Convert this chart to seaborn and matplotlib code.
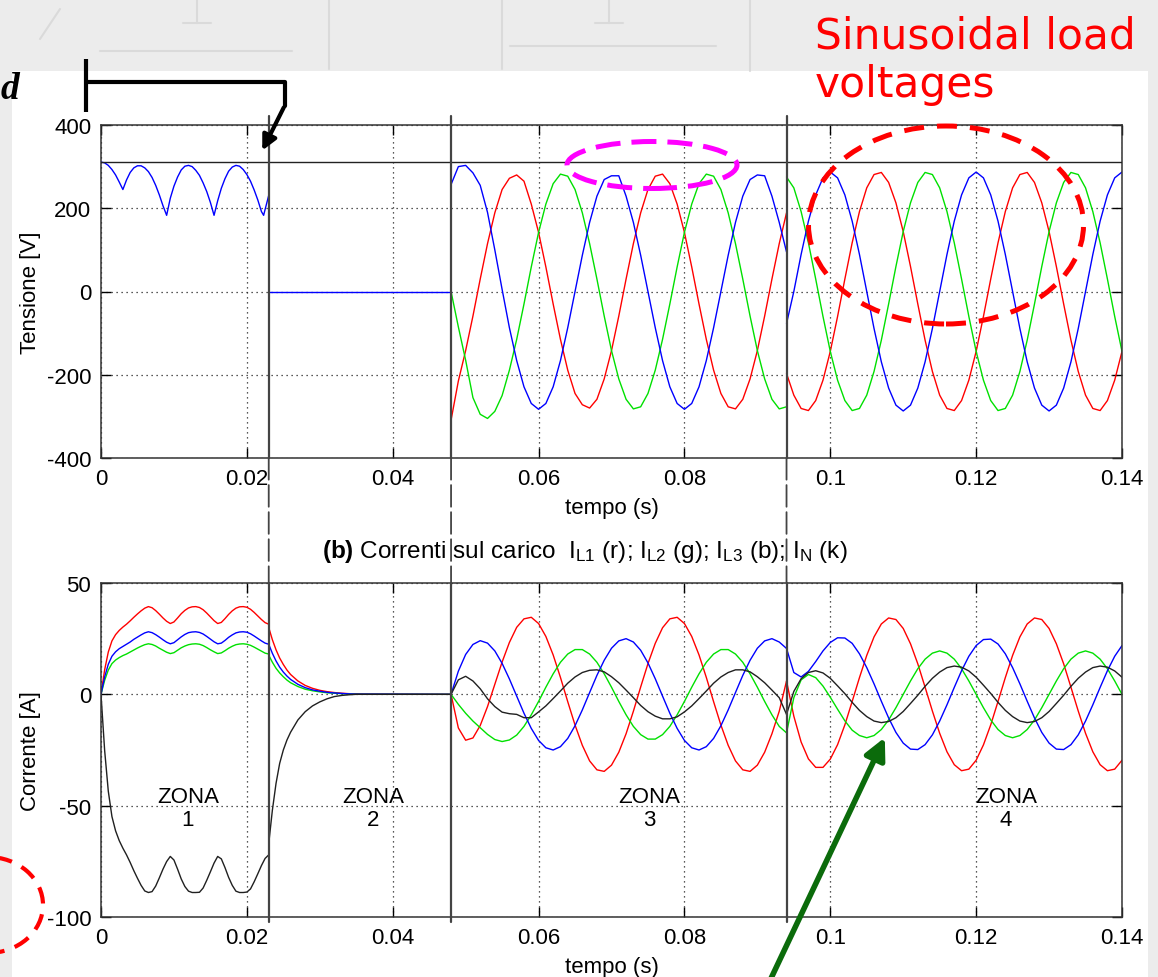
import numpy as np
import seaborn as sns
import matplotlib.pyplot as plt
from matplotlib.patches import Ellipse, Rectangle, FancyArrowPatch, ConnectionPatch
from matplotlib.lines import Line2D

sns.set_theme(style="ticks")
plt.rcParams['font.family'] = ['Liberation Sans', 'DejaVu Sans']
plt.rcParams['mathtext.fontset'] = 'custom'
plt.rcParams['mathtext.rm'] = 'Liberation Sans'
plt.rcParams['mathtext.bf'] = 'Liberation Sans:bold'
plt.rcParams['mathtext.it'] = 'Liberation Sans:italic'
plt.rcParams['text.color'] = 'black'
plt.rcParams['axes.labelcolor'] = 'black'

# ---------------- data (time in ms) ----------------
# zone 1 (0 - 23 ms)
t1 = [0, 0.5, 1, 1.5, 2, 2.5, 3, 3.5, 4, 4.5, 5, 5.5, 6, 6.5, 7, 7.5, 8, 8.5, 9, 9.5,
      10, 10.5, 11, 11.5, 12, 12.5, 13, 13.5, 14, 14.5, 15, 15.5, 16, 16.5, 17, 17.5,
      18, 18.5, 19, 19.5, 20, 20.5, 21, 21.5, 22, 22.5, 23]
t1v = [0, 0.5, 1, 1.5, 2, 2.5, 3, 3.5, 4, 4.5, 5, 5.5, 6, 6.5, 7, 7.5, 8, 8.5, 9, 9.5,
       10, 10.5, 11, 11.5, 12, 12.5, 13, 13.5, 14, 14.5, 15, 15.5, 16, 16.5, 17, 17.5,
       18, 18.5, 19, 19.5, 20, 20.5, 21, 21.5, 22, 22.3, 22.5, 23]
v1_b = [311, 309, 303, 293, 280, 263, 245, 268, 286, 297, 302, 302, 297, 288, 274, 255,
        232, 206, 183, 224, 253, 275, 292, 301, 303, 300, 291, 279, 261, 240, 214, 183,
        218, 248, 271, 289, 299, 303, 301, 293, 281, 265, 244, 220, 192, 183, 197, 231]
i1_r = [0, 11, 19, 24, 26.8, 28.7, 30.2, 31.5, 33.0, 34.6, 36.1, 37.5, 38.7, 39.4, 38.9,
        37.6, 36.0, 34.3, 32.8, 31.8, 32.5, 34.3, 36.2, 37.7, 38.8, 39.3, 39.4, 39.0, 38.0,
        36.5, 34.8, 33.1, 31.8, 32.3, 34.0, 35.9, 37.5, 38.7, 39.3, 39.4, 39.1, 38.2, 36.8,
        35.2, 33.6, 32.2, 31.5]
i1_g = [0, 6.3, 10.9, 13.8, 15.4, 16.5, 17.4, 18.1, 19.0, 19.9, 20.8, 21.6, 22.3, 22.7,
        22.4, 21.7, 20.7, 19.8, 18.9, 18.3, 18.7, 19.8, 20.9, 21.7, 22.3, 22.6, 22.7, 22.5,
        21.9, 21.0, 20.0, 19.1, 18.3, 18.6, 19.6, 20.7, 21.6, 22.3, 22.6, 22.7, 22.5, 22.0,
        21.2, 20.3, 19.4, 18.5, 18.1]
i1_b = [0, 7.8, 13.5, 17.1, 19.1, 20.5, 21.5, 22.5, 23.5, 24.7, 25.7, 26.7, 27.6, 28.1,
        27.7, 26.8, 25.7, 24.5, 23.4, 22.7, 23.2, 24.5, 25.8, 26.9, 27.7, 28.0, 28.1, 27.8,
        27.1, 26.0, 24.8, 23.6, 22.7, 23.0, 24.2, 25.6, 26.7, 27.6, 28.0, 28.1, 27.9, 27.2,
        26.2, 25.1, 24.0, 23.0, 22.5]
i1_k = [0, -25.2, -43.5, -54.9, -61.3, -65.7, -69.1, -72.1, -75.5, -79.2, -82.6, -85.8,
        -88.3, -89.0, -88.6, -86.1, -82.4, -78.5, -75.1, -72.8, -74.4, -78.5, -82.9, -86.3,
        -88.4, -89.0, -89.0, -88.9, -87.0, -83.5, -79.7, -75.8, -72.8, -73.9, -77.8, -82.2,
        -85.8, -88.4, -89.0, -89.0, -88.8, -87.4, -84.2, -80.6, -76.9, -73.7, -72.1]

# zone 2 (23 - 48 ms)
t2v = [23, 48]
v2_b = [0, 0]
t2 = [23, 23.5, 24, 24.5, 25, 25.5, 26, 27, 28, 29, 30, 31, 32, 33, 34, 35, 36, 48]
i2_r = [30.0, 24.5, 20.0, 16.3, 13.4, 10.9, 8.9, 6.0, 4.0, 2.7, 1.8, 1.2, 0.8, 0.5, 0.3, 0.2, 0.1, 0]
i2_g = [17.6, 14.4, 11.7, 9.6, 7.9, 6.4, 5.2, 3.5, 2.3, 1.6, 1.1, 0.7, 0.5, 0.3, 0.2, 0.1, 0.05, 0]
i2_b = [22.5, 18.4, 15.0, 12.2, 10.0, 8.2, 6.7, 4.5, 3.0, 2.0, 1.4, 0.9, 0.6, 0.4, 0.2, 0.1, 0.1, 0]
i2_k = [-67, -52, -40, -31, -25, -20.5, -17, -11.5, -7.8, -5.2, -3.4, -2.0, -1.0, -0.5, -0.2, 0, 0, 0]

# zone 3 (48 - 94 ms)
t3 = [48, 49, 50, 51, 52, 53, 54, 55, 56, 57, 58, 59, 60, 61, 62, 63, 64, 65, 66, 67, 68,
      69, 70, 71, 72, 73, 74, 75, 76, 77, 78, 79, 80, 81, 82, 83, 84, 85, 86, 87, 88, 89,
      90, 91, 92, 93, 94]
v3_r = [-309, -215, -142, -59, 30, 115, 189, 245, 272, 280, 265, 210, 142, 59, -30, -115,
        -189, -245, -272, -280, -259, -210, -142, -59, 30, 115, 189, 245, 277, 282, 259,
        210, 142, 59, -30, -115, -189, -245, -277, -282, -259, -210, -142, -59, 30, 115, 189]
v3_g = [0, -85, -165, -255, -295, -305, -288, -250, -189, -115, -30, 59, 142, 210, 259, 282,
        277, 245, 189, 115, 30, -59, -142, -210, -259, -282, -277, -245, -189, -115, -30,
        59, 142, 210, 259, 282, 277, 245, 189, 115, 30, -59, -142, -210, -259, -282, -277]
v3_b = [257, 300, 303, 285, 255, 190, 100, 5, -87, -166, -229, -269, -283, -269, -229, -166,
        -87, 0, 87, 166, 229, 269, 278, 278, 229, 166, 87, 0, -87, -166, -229, -269, -283,
        -269, -229, -166, -87, 0, 87, 166, 229, 269, 280, 278, 229, 166, 95]
i3_r = [0, -15.1, -20.6, -19.6, -14.0, -5.5, 4.5, 14.5, 23.3, 30.1, 33.9, 34.6, 31.8, 26.0,
        17.7, 7.6, -3.3, -13.8, -22.9, -29.9, -33.9, -34.6, -31.8, -26.0, -17.7, -7.6, 3.3,
        13.8, 22.9, 29.9, 33.9, 34.6, 31.8, 26.0, 17.7, 7.6, -3.3, -13.8, -22.9, -29.9,
        -33.9, -34.6, -31.8, -26.0, -17.7, -7.6, 6.0]
i3_g = [0, -4.5, -8.5, -12.0, -15.0, -18.0, -20.3, -21.2, -20.5, -18.3, -14.4, -9.2, -3.2,
        3.2, 9.2, 14.4, 18.1, 20.1, 20.1, 18.1, 14.4, 9.2, 3.2, -3.2, -9.2, -14.4, -18.1,
        -20.1, -20.1, -18.1, -14.4, -9.2, -3.2, 3.2, 9.2, 14.4, 18.1, 20.1, 20.1, 18.1, 14.4,
        9.2, 3.2, -3.2, -9.2, -14.4, -17.3]
i3_b = [0, 10.4, 17.9, 22.4, 24.1, 23.0, 19.5, 13.9, 6.9, -0.8, -8.5, -15.3, -20.7, -24.0,
        -25.0, -23.5, -19.8, -14.1, -7.0, 0.8, 8.5, 15.3, 20.7, 24.0, 25.0, 23.5, 19.8, 14.1,
        7.0, -0.8, -8.5, -15.3, -20.7, -24.0, -25.0, -23.5, -19.8, -14.1, -7.0, 0.8, 8.5,
        15.3, 20.7, 24.0, 25.0, 23.5, 20.6]
i3_k = [0, 6.5, 8.1, 6.0, 2.5, -2.0, -5.5, -8.0, -8.7, -9.0, -10.5, -10.5, -7.9, -5.2, -1.9,
        1.5, 5.0, 7.8, 9.8, 10.8, 11.0, 10.1, 7.9, 5.2, 1.9, -1.5, -5.0, -7.8, -9.8, -11.0,
        -11.0, -10.1, -7.9, -5.2, -1.9, 1.5, 5.0, 7.8, 9.8, 11.0, 11.0, 10.1, 7.9, 5.2, 1.9,
        -1.5, -9.0]

# zone 4 (94 - 140 ms)
t4 = [94, 95, 96, 97, 98, 99, 100, 101, 102, 103, 104, 105, 106, 107, 108, 109, 110, 111,
      112, 113, 114, 115, 116, 117, 118, 119, 120, 121, 122, 123, 124, 125, 126, 127, 128,
      129, 130, 131, 132, 133, 134, 135, 136, 137, 138, 139, 140]
v4_r = [-197, -249, -281, -286, -262, -213, -144, -60, 30, 117, 192, 249, 281, 286, 262, 213,
        144, 60, -30, -117, -192, -249, -281, -286, -262, -213, -144, -60, 30, 117, 192, 249,
        281, 286, 262, 213, 144, 60, -30, -117, -192, -249, -281, -286, -262, -213, -144]
v4_g = [275, 249, 192, 117, 30, -60, -144, -213, -262, -286, -281, -249, -192, -117, -30, 60,
        144, 213, 262, 286, 281, 249, 192, 117, 30, -60, -144, -213, -262, -286, -281, -249,
        -192, -117, -30, 60, 144, 213, 262, 286, 281, 249, 192, 117, 30, -60, -144]
v4_b = [-77, 0, 89, 169, 232, 273, 287, 273, 232, 169, 89, 0, -89, -169, -232, -273, -287,
        -273, -232, -169, -89, 0, 89, 169, 232, 273, 287, 273, 232, 169, 89, 0, -89, -169,
        -232, -273, -287, -273, -232, -169, -89, 0, 89, 169, 232, 273, 287]
i4_r = [6.0, -9.8, -21.4, -29.0, -32.8, -32.8, -29.1, -22.6, -13.7, -3.2, 7.5, 17.5, 25.8,
        31.6, 34.3, 33.6, 29.6, 22.7, 13.7, 3.2, -7.5, -17.5, -25.8, -31.6, -34.3, -33.6,
        -29.6, -22.7, -13.7, -3.2, 7.5, 17.5, 25.8, 31.6, 34.3, 33.6, 29.6, 22.7, 13.7, 3.2,
        -7.5, -17.5, -25.8, -31.6, -34.3, -33.6, -29.6]
i4_g = [-17.3, -1.5, 6.5, 8.9, 7.5, 3.7, -1.3, -6.7, -11.9, -16.1, -18.5, -19.5, -18.5,
        -15.8, -11.5, -6.0, 0, 6.0, 11.5, 15.8, 18.5, 19.5, 18.5, 15.8, 11.5, 6.0, 0, -6.0,
        -11.5, -15.8, -18.5, -19.5, -18.5, -15.8, -11.5, -6.0, 0, 6.0, 11.5, 15.8, 18.5, 19.5,
        18.5, 15.8, 11.5, 6.0, 0]
i4_b = [20.6, 9.8, 7.8, 10.3, 14.7, 19.5, 23.3, 25.4, 25.3, 22.9, 18.2, 12.0, 4.7, -3.1,
        -10.6, -17.1, -21.9, -24.6, -24.8, -22.6, -18.2, -12.0, -4.7, 3.1, 10.6, 17.1, 21.9,
        24.6, 24.8, 22.6, 18.2, 12.0, 4.7, -3.1, -10.6, -17.1, -21.9, -24.6, -24.8, -22.6,
        -18.2, -12.0, -4.7, 3.1, 10.6, 17.1, 21.9]
i4_k = [-9.0, 1.3, 7.0, 9.8, 10.6, 9.6, 7.2, 3.8, 0.3, -3.6, -7.2, -10.0, -12.0, -12.7,
        -12.2, -10.5, -7.7, -4.1, -0.4, 3.6, 7.2, 10.0, 12.0, 12.7, 12.2, 10.5, 7.7, 4.1,
        0.4, -3.6, -7.2, -10.0, -12.0, -12.7, -12.2, -10.5, -7.7, -4.1, -0.4, 3.6, 7.2,
        10.0, 12.0, 12.7, 12.2, 10.5, 7.7]

v_ref = 311                       # horizontal reference line on the voltage plot
zone_edges = [0.023, 0.048, 0.094]  # s
zone_label_x = [0.0119, 0.0373, 0.0752, 0.1241]
zone_labels = ['ZONA\n1', 'ZONA\n2', 'ZONA\n3', 'ZONA\n4']
x_ticks = [0, 0.02, 0.04, 0.06, 0.08, 0.1, 0.12, 0.14]
x_tick_labels = ['0', '0.02', '0.04', '0.06', '0.08', '0.1', '0.12', '0.14']
v_ticks = [-400, -200, 0, 200, 400]
i_ticks = [-100, -50, 0, 50]

RED, GREEN, BLUE, BLACK = '#ff0000', '#00e000', '#0000ff', '#202020'

# ---------------- figure ----------------
W, H = 1158, 978
fig = plt.figure(figsize=(W / 100, H / 100), dpi=100)
fig.patch.set_facecolor('#ececec')


def fx(x):
    return x / W


def fy(y):
    return 1 - y / H


# white slide area + faint background drawing
fig.add_artist(Rectangle((fx(12), 0), (1148 - 12) / W, (H - 72) / H, transform=fig.transFigure,
                         facecolor='white', edgecolor='none', zorder=-10))
faint = [((100, 52), (292, 52)), ((510, 47), (716, 47)), ((197, 0), (197, 24)), ((183, 24), (211, 24)),
         ((609, 0), (609, 24)), ((595, 24), (623, 24)), ((329, 0), (329, 70)), ((750, 0), (750, 72)),
         ((502, 0), (502, 70)), ((40, 40), (60, 10))]
for (xa, ya), (xb, yb) in faint:
    fig.add_artist(Line2D([fx(xa), fx(xb)], [fy(ya), fy(yb)], transform=fig.transFigure,
                          color='#dadada', lw=1.5, zorder=-9))

ax1 = fig.add_axes([fx(101), fy(459), 1021 / W, 333 / H])
ax2 = fig.add_axes([fx(101), fy(918), 1021 / W, 334 / H])


def trace(ax, t_ms, vals, color, z=2):
    sns.lineplot(x=np.array(t_ms) / 1000.0, y=vals, color=color, lw=1.0,
                 estimator=None, sort=False, ax=ax, zorder=z)


# voltages
trace(ax1, t1v, v1_b, BLUE)
trace(ax1, t2v, v2_b, BLUE)
for tt, r, g, b in [(t3, v3_r, v3_g, v3_b), (t4, v4_r, v4_g, v4_b)]:
    trace(ax1, tt, r, RED)
    trace(ax1, tt, g, GREEN)
    trace(ax1, tt, b, BLUE)
ax1.axhline(v_ref, color='#222222', lw=1.0, zorder=3)

# currents
for tt, r, g, b, k in [(t1, i1_r, i1_g, i1_b, i1_k), (t2, i2_r, i2_g, i2_b, i2_k),
                       (t3, i3_r, i3_g, i3_b, i3_k), (t4, i4_r, i4_g, i4_b, i4_k)]:
    trace(ax2, tt, r, RED)
    trace(ax2, tt, g, GREEN)
    trace(ax2, tt, b, BLUE)
    trace(ax2, tt, k, BLACK, z=2.5)

for ax, yl, yt in [(ax1, (-400, 400), v_ticks), (ax2, (-100, 50), i_ticks)]:
    ax.set_xlim(0, 0.14)
    ax.set_ylim(*yl)
    ax.set_xticks(x_ticks)
    ax.set_xticklabels(x_tick_labels)
    ax.set_yticks(yt)
    ax.set_yticklabels([str(v) for v in yt])
    ax.grid(True, linestyle=(0, (1, 3)), color='#222222', lw=0.9)
    ax.tick_params(direction='in', length=7, width=1, top=True, right=True,
                   labelsize=16, pad=7, colors='black')
    for s in ax.spines.values():
        s.set_color('#333333')
        s.set_linewidth(1.1)
    ax.set_xlabel('tempo (s)', fontsize=16, labelpad=6)
    ax.set_facecolor('white')

ax1.set_ylabel('Tensione [V]', fontsize=16, labelpad=4)
ax2.set_ylabel('Corrente [A]', fontsize=16, labelpad=4)

# zone boundaries
for te in zone_edges:
    ax1.axvline(te, ymin=0, ymax=1.027, color='#444444', lw=1.6, zorder=3, clip_on=False)
    ax2.axvline(te, ymin=-0.015, ymax=1, color='#444444', lw=1.6, zorder=3, clip_on=False)
    con = ConnectionPatch(xyA=(te, -400), coordsA='data', axesA=ax1,
                          xyB=(te, 50), coordsB='data', axesB=ax2,
                          color='#444444', lw=1.3, linestyle=(0, (12, 3)))
    fig.add_artist(con)

for xz, lab in zip(zone_label_x, zone_labels):
    ax2.text(xz, -41, lab, ha='center', va='top', fontsize=16, linespacing=1.15, zorder=4)

ax2.text(0.2165, 1.078,
         r'$\mathbf{(b)}$ Correnti sul carico  $\mathrm{I_{L1}}$ (r); $\mathrm{I_{L2}}$ (g); '
         r'$\mathrm{I_{L3}}$ (b); $\mathrm{I_{N}}$ (k)',
         transform=ax2.transAxes, ha='left', va='baseline', fontsize=17.5)

# ---------------- slide annotations ----------------
fig.text(fx(815), fy(97), 'Sinusoidal load\nvoltages', color='#ff0000', fontsize=30.5,
         family='DejaVu Sans', ha='left', va='baseline', linespacing=1.2)
fig.text(fx(1), fy(99), 'd', fontsize=27, fontweight='bold', fontstyle='italic',
         family='Liberation Serif', ha='left', va='baseline')

# bracket + arrow (top left)
fig.add_artist(Line2D([fx(86), fx(86)], [fy(60), fy(113)], transform=fig.transFigure,
                      color='black', lw=3, solid_capstyle='butt'))
fig.add_artist(Line2D([fx(86), fx(285), fx(285)], [fy(83), fy(83), fy(107)],
                      transform=fig.transFigure, color='black', lw=3))
fig.add_artist(FancyArrowPatch((fx(285), fy(106)), (fx(261), fy(154)), transform=fig.transFigure,
                               arrowstyle='-|>', mutation_scale=22, color='black', lw=3))

# green arrow (bottom)
fig.add_artist(FancyArrowPatch((fx(766), fy(990)), (fx(886), fy(736)), transform=fig.transFigure,
                               arrowstyle='-|>', mutation_scale=32, color='#0b6b0b', lw=4))

# dashed ellipses
fig.add_artist(Ellipse((fx(946), fy(226)), 275 / W, 198 / H, transform=fig.transFigure,
                       fill=False, edgecolor='#ff0000', lw=3.6, linestyle=(0, (4, 2.6)), zorder=5))
fig.add_artist(Ellipse((fx(652), fy(166)), 170 / W, 47 / H, transform=fig.transFigure,
                       fill=False, edgecolor='#ff00ff', lw=3.6, linestyle=(0, (5, 2.2)), zorder=5))
fig.add_artist(Ellipse((fx(-12), fy(906)), 110 / W, 96 / H, transform=fig.transFigure,
                       fill=False, edgecolor='#ff0000', lw=3.0, linestyle=(0, (4, 2.6)), zorder=5))

fig.savefig('out.png', dpi=100)
